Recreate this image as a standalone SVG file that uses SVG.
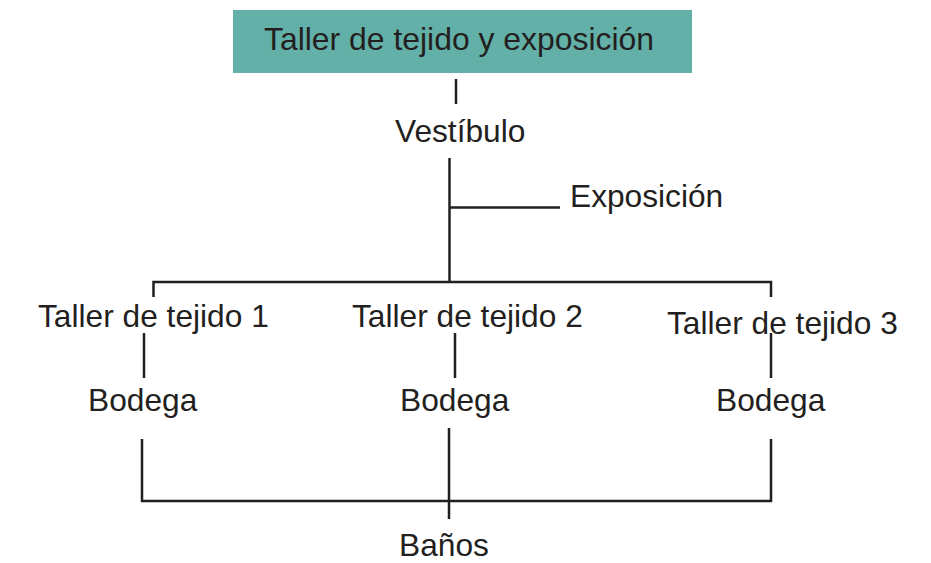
<svg xmlns="http://www.w3.org/2000/svg" width="931" height="563" viewBox="0 0 931 563">
<style>
  text { font-family: "Liberation Sans", Arial, sans-serif; font-size: 31.7px; fill: #231f20; }
  .ln { stroke: #231f20; stroke-width: 2.5; fill: none; }
</style>
<rect width="931" height="563" fill="#ffffff"/>
<g id="connectors">
  <line class="ln" x1="456" y1="79" x2="456" y2="104"/>
  <line class="ln" x1="449.5" y1="158" x2="449.5" y2="283"/>
  <line class="ln" x1="449.5" y1="207.5" x2="560" y2="207.5"/>
  <polyline class="ln" points="153.5,297 153.5,282 771,282 771,297"/>
  <line class="ln" x1="144" y1="333" x2="144" y2="378"/>
  <line class="ln" x1="455" y1="333" x2="455" y2="378"/>
  <line class="ln" x1="771" y1="333" x2="771" y2="378"/>
  <polyline class="ln" points="142,439 142,501 771,501 771,439"/>
  <line class="ln" x1="449" y1="428" x2="449" y2="519"/>
</g>
<g id="title">
  <rect x="233" y="10" width="459" height="63" fill="#63b0a8"/>
  <text x="264" y="50" style="font-size:31.9px">Taller de tejido y exposición</text>
</g>
<g id="vestibulo"><text x="395" y="142">Vestíbulo</text></g>
<g id="exposicion"><text x="570" y="207">Exposición</text></g>
<g id="taller1"><text x="38" y="327">Taller de tejido 1</text></g>
<g id="taller2"><text x="352" y="327">Taller de tejido 2</text></g>
<g id="taller3"><text x="667" y="334">Taller de tejido 3</text></g>
<g id="bodega1"><text x="88" y="411">Bodega</text></g>
<g id="bodega2"><text x="400" y="411">Bodega</text></g>
<g id="bodega3"><text x="716" y="411">Bodega</text></g>
<g id="banos"><text x="399" y="556">Baños</text></g>
</svg>
